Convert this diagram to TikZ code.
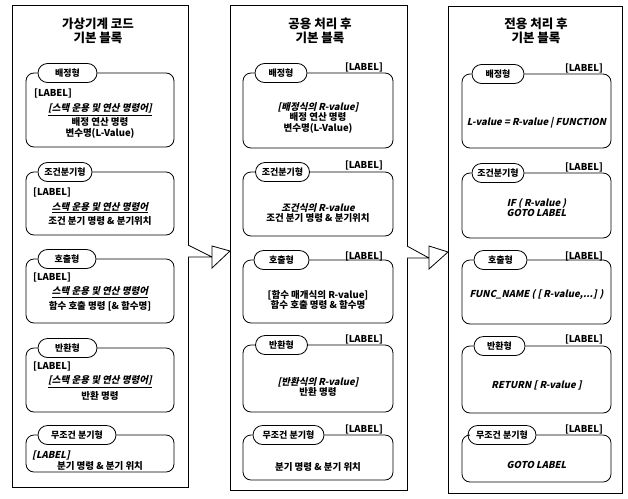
\documentclass[tikz,border=0pt]{standalone}
\usepackage{fontspec}
\setmainfont{Noto Sans CJK KR}
\newfontfamily\itfont{Noto Sans CJK KR}[FakeSlant=0.22]
\newcommand\slt[1]{{\itfont\bfseries #1}}
\usetikzlibrary{shapes.misc}
\tikzset{
 colbox/.style={draw, line width=0.8pt},
 tabst/.style={draw, rounded rectangle, line width=0.8pt, minimum height=19, inner sep=1pt, font=\fontsize{9}{10}\selectfont\bfseries, fill=white},
 blkline/.style={line width=0.8pt, rounded corners=8},
 body/.style={align=center, font=\fontsize{9.5}{10.5}\selectfont\bfseries, inner sep=0pt},
 lbl/.style={font=\fontsize{9.5}{10.5}\selectfont\bfseries, inner sep=0pt},
 ttl/.style={align=center, font=\fontsize{12.5}{14}\selectfont\bfseries, inner sep=0pt},
 barrow/.style={draw, line width=0.8pt, fill=white, line join=miter}
}
\newcommand\mkblk[8]{%
 \node[tabst, minimum width=#7] (#1) at (#6,#4) {#8};
 \draw[blkline] (#1.east) -- (#3,#4) -- (#3,#5) -- (#2,#5) -- (#2,#4) -- (#1.west);
}
\begin{document}
\begin{tikzpicture}[x=1pt,y=-1pt]
\useasboundingbox (0,0) rectangle (628,498);
% columns
\draw[colbox] (12,5) coordinate (c1a) rectangle (188,487) coordinate (c1b);
\draw[colbox] (230,5) coordinate (c2a) rectangle (407,490) coordinate (c2b);
\draw[colbox] (448,6) coordinate (c3a) rectangle (622,493) coordinate (c3b);
% titles
\node[ttl] (t1) at (98,31) {가상기계 코드\\기본 블록};
\node[ttl] (t2) at (320,31) {공용 처리 후\\기본 블록};
\node[ttl] (t3) at (536,31) {전용 처리 후\\기본 블록};
% block arrows
\coordinate (a1) at (188,251);
\coordinate (a2) at (407,252);
\draw[barrow] ([yshift=-6]a1) -- ++(24,0) -- ++(0,-11) -- (230,251) -- (212,268) -- (212,257) -- ([yshift=6]a1);
\draw[barrow] ([yshift=-6]a2) -- ++(22,0) -- ++(0,-12) -- (448,252) -- (429,269) -- (429,258) -- ([yshift=6]a2);
% ---------- column 1
\mkblk{b11}{26}{174}{73}{147}{67.5}{61}{배정형}
\node[lbl, anchor=west] (l11) at (34,93) {[LABEL]};
\node[body] (x11) at (100,121) {\underline{\slt{[스택 운용 및 연산 명령어]}}\\[1.5pt]배정 연산 명령\\변수명(L-Value)};
\mkblk{b12}{26}{174}{172}{235}{65}{56}{조건분기형}
\node[lbl, anchor=west] (l12) at (33,192) {[LABEL]};
\node[body] (x12) at (100,214) {\underline{\slt{스택 운용 및 연산 명령어}}\\[2.5pt]조건 분기 명령 \& 분기위치};
\mkblk{b13}{26}{174}{259}{323}{67}{60}{호출형}
\node[lbl, anchor=west] (l13) at (33,277) {[LABEL]};
\node[body] (x13) at (100,299) {\underline{\slt{스택 운용 및 연산 명령어}}\\[2.5pt]함수 호출 명령 [\& 함수명]};
\mkblk{b14}{26}{174}{348}{412}{67.5}{61}{반환형}
\node[lbl, anchor=west] (l14) at (33,366) {[LABEL]};
\node[body] (x14) at (100,388) {\underline{\slt{[스택 운용 및 연산 명령어]}}\\[2.5pt]반환 명령};
\mkblk{b15}{26}{174}{435}{472}{77}{80}{무조건 분기형}
\node[lbl, anchor=west] (l15) at (32,455) {\slt{[LABEL]}};
\node[body] (x15) at (100,466) {분기 명령 \& 분기 위치};
% ---------- column 2
\mkblk{b21}{243}{393}{73}{148}{281}{54}{배정형}
\node[lbl, anchor=east] (l21) at (383,67) {[LABEL]};
\node[body] (x21) at (318,117.5) {\slt{[배정식의 R-value]}\\배정 연산 명령\\변수명(L-Value)};
\mkblk{b22}{243}{393}{172}{236}{282.5}{56}{조건분기형}
\node[lbl, anchor=east] (l22) at (383,165) {[LABEL]};
\node[body] (x22) at (318,213) {\slt{조건식의 R-value}\\조건 분기 명령 \& 분기위치};
\mkblk{b23}{243}{393}{260}{323}{281.5}{57}{호출형}
\node[lbl, anchor=east] (l23) at (383,256) {[LABEL]};
\node[body] (x23) at (318,300) {[함수 매개식의 R-value]\\함수 호출 명령 \& 함수명};
\mkblk{b24}{243}{393}{345}{412}{281.5}{54}{반환형}
\node[lbl, anchor=east] (l24) at (383,339) {[LABEL]};
\node[body] (x24) at (318,387) {\slt{[반환식의 R-value]}\\반환 명령};
\mkblk{b25}{243}{393}{435}{480}{288.5}{73}{무조건 분기형}
\node[lbl, anchor=east] (l25) at (383,429) {[LABEL]};
\node[body] (x25) at (318,467) {분기 명령 \& 분기 위치};
% ---------- column 3
\mkblk{b31}{462}{611}{74}{148}{498}{54}{배정형}
\node[lbl, anchor=east] (l31) at (603,68) {[LABEL]};
\node[body] (x31) at (536.5,123) {\slt{L-value = R-value | FUNCTION}};
\mkblk{b32}{462}{611}{173}{238}{498}{54}{조건분기형}
\node[lbl, anchor=east] (l32) at (603,167) {[LABEL]};
\node[body] (x32) at (536.5,207.5) {\slt{IF ( R-value )}\\\slt{GOTO LABEL}};
\mkblk{b33}{462}{611}{260}{324}{500.5}{55}{호출형}
\node[lbl, anchor=east] (l33) at (603,256) {[LABEL]};
\node[body] (x33) at (536.5,295) {\slt{FUNC\_NAME ( [ R-value,...] )}};
\mkblk{b34}{462}{611}{346}{413}{499.5}{53}{반환형}
\node[lbl, anchor=east] (l34) at (603,339) {[LABEL]};
\node[body] (x34) at (536.5,385) {\slt{RETURN [ R-value ]}};
\mkblk{b35}{462}{611}{435}{482}{502}{70}{무조건 분기형}
\node[lbl, anchor=east] (l35) at (603,429) {[LABEL]};
\node[body] (x35) at (536.5,465) {\slt{GOTO LABEL}};
\end{tikzpicture}
\end{document}
